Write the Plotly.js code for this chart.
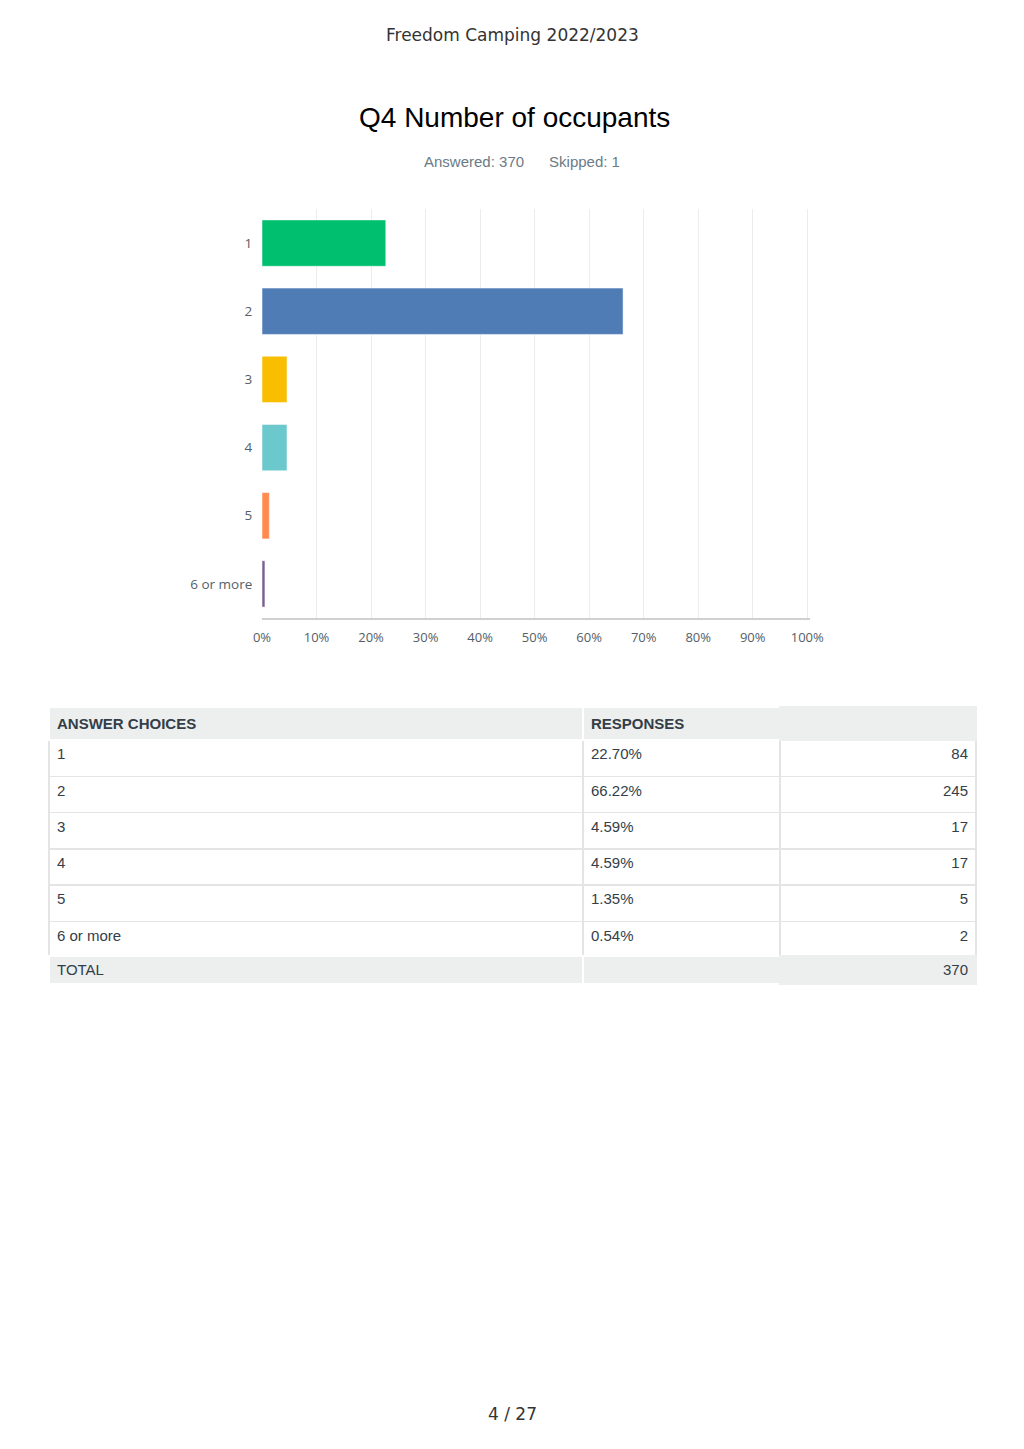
<!DOCTYPE html>
<html>
<head>
<meta charset="utf-8">
<script src="https://cdn.plot.ly/plotly-3.0.1.min.js"></script>
<style>
  html, body { margin: 0; padding: 0; background: #fff; }
  #page { width: 1024px; height: 1449px; }
</style>
</head>
<body>
<div id="page"></div>
<script>
const categories = ['1', '2', '3', '4', '5', '6 or more'];
const percents = [22.70, 66.22, 4.59, 4.59, 1.35, 0.54];
const counts = [84, 245, 17, 17, 5, 2];
const totalCount = 370;
const skipped = 1;
const xTicks = [0, 10, 20, 30, 40, 50, 60, 70, 80, 90, 100];

const BAR_COLORS = ['#00bf6f', '#507cb6', '#f9be00', '#6bc8cd', '#ff8b4f', '#7d5e90'];
const COLORS = {
  text: '#333e48',
  tick: '#555e66',
  muted: '#6b7b85',
  grid: '#ececec',
  axis: '#d0d0d0',
  headFill: '#edeeee',
  rowLine: '#e4e4e4',
};

const W = 1024, H = 1449;
const px = (x) => x / W;
const py = (y) => 1 - y / H;
const TABLE_FONT = { family: 'Liberation Sans, Arial, sans-serif', size: 15, color: COLORS.text };

const bars = {
  type: 'bar',
  orientation: 'h',
  x: percents,
  y: categories,
  marker: { color: BAR_COLORS, line: { color: 'rgba(255,255,255,0.5)', width: 1 } },
  hoverinfo: 'skip',
  xaxis: 'x',
  yaxis: 'y',
};

const table = {
  type: 'table',
  domain: { x: [px(49), px(976)], y: [py(956), py(707)] },
  columnwidth: [534, 197, 196],
  header: {
    values: ['<b>ANSWER CHOICES</b>', '<b>RESPONSES</b>', ''],
    align: ['left', 'left', 'right'],
    height: 25,
    fill: { color: COLORS.headFill },
    line: { color: ['#ffffff', '#ffffff', COLORS.headFill], width: 1.5 },
    font: TABLE_FONT,
  },
  cells: {
    values: [categories, percents.map(v => v.toFixed(2) + '%'), counts.map(String)],
    align: ['left', 'left', 'right'],
    height: 36.3,
    fill: { color: '#ffffff' },
    line: { color: COLORS.rowLine, width: 1.5 },
    font: TABLE_FONT,
  },
};

const totalRow = {
  type: 'table',
  domain: { x: [px(49), px(976)], y: [py(985), py(956)] },
  columnwidth: [534, 197, 196],
  header: {
    values: ['TOTAL', '', String(totalCount)],
    align: ['left', 'left', 'right'],
    height: 28,
    fill: { color: COLORS.headFill },
    line: { color: ['#ffffff', '#ffffff', COLORS.headFill], width: 1.5 },
    font: TABLE_FONT,
  },
  cells: { values: [[], [], []], height: 0 },
};

const layout = {
  width: W,
  height: H,
  margin: { t: 0, r: 0, b: 0, l: 0 },
  paper_bgcolor: '#ffffff',
  plot_bgcolor: '#ffffff',
  showlegend: false,
  bargap: 0.32,
  font: { family: 'Open Sans, sans-serif', color: COLORS.tick, size: 13 },
  xaxis: {
    domain: [px(262), px(810)],
    range: [0, 100.5],
    tickvals: xTicks,
    ticktext: xTicks.map(v => v + '%'),
    showgrid: true,
    gridcolor: COLORS.grid,
    gridwidth: 1,
    zeroline: false,
    showline: true,
    linecolor: COLORS.axis,
    linewidth: 2,
    ticks: 'outside',
    ticklen: 6,
    tickcolor: 'rgba(0,0,0,0)',
    tickfont: { family: 'Open Sans, sans-serif', size: 13, color: COLORS.tick },
    fixedrange: true,
  },
  yaxis: {
    type: 'category',
    domain: [py(618), py(209)],
    categoryorder: 'array',
    categoryarray: categories,
    autorange: 'reversed',
    showgrid: false,
    zeroline: false,
    showline: false,
    ticks: 'outside',
    ticklen: 6,
    tickcolor: 'rgba(0,0,0,0)',
    tickfont: { family: 'Open Sans, sans-serif', size: 13.5, color: COLORS.tick },
    fixedrange: true,
  },
  annotations: [
    {
      text: 'Freedom Camping 2022/2023',
      xref: 'paper', yref: 'paper', x: 0.5, y: py(35),
      xanchor: 'center', yanchor: 'middle', showarrow: false,
      font: { family: 'DejaVu Sans, sans-serif', size: 17, color: '#333333' },
    },
    {
      text: 'Q4 Number of occupants',
      xref: 'paper', yref: 'paper', x: px(514), y: py(117),
      xanchor: 'center', yanchor: 'middle', showarrow: false,
      font: { family: 'Liberation Sans, Arial, sans-serif', size: 28, color: '#000000' },
    },
    {
      text: 'Answered: ' + totalCount + '&nbsp;&nbsp;&nbsp;&nbsp;&nbsp;&nbsp;Skipped: ' + skipped,
      xref: 'paper', yref: 'paper', x: px(522), y: py(161),
      xanchor: 'center', yanchor: 'middle', showarrow: false,
      font: { family: 'Liberation Sans, Arial, sans-serif', size: 15, color: COLORS.muted },
    },
    {
      text: '4 / 27',
      xref: 'paper', yref: 'paper', x: 0.5, y: py(1414),
      xanchor: 'center', yanchor: 'middle', showarrow: false,
      font: { family: 'DejaVu Sans, sans-serif', size: 17, color: '#333333' },
    },
  ],
};

Plotly.newPlot('page', [bars, table, totalRow], layout, { displayModeBar: false, staticPlot: true });
</script>
</body>
</html>
